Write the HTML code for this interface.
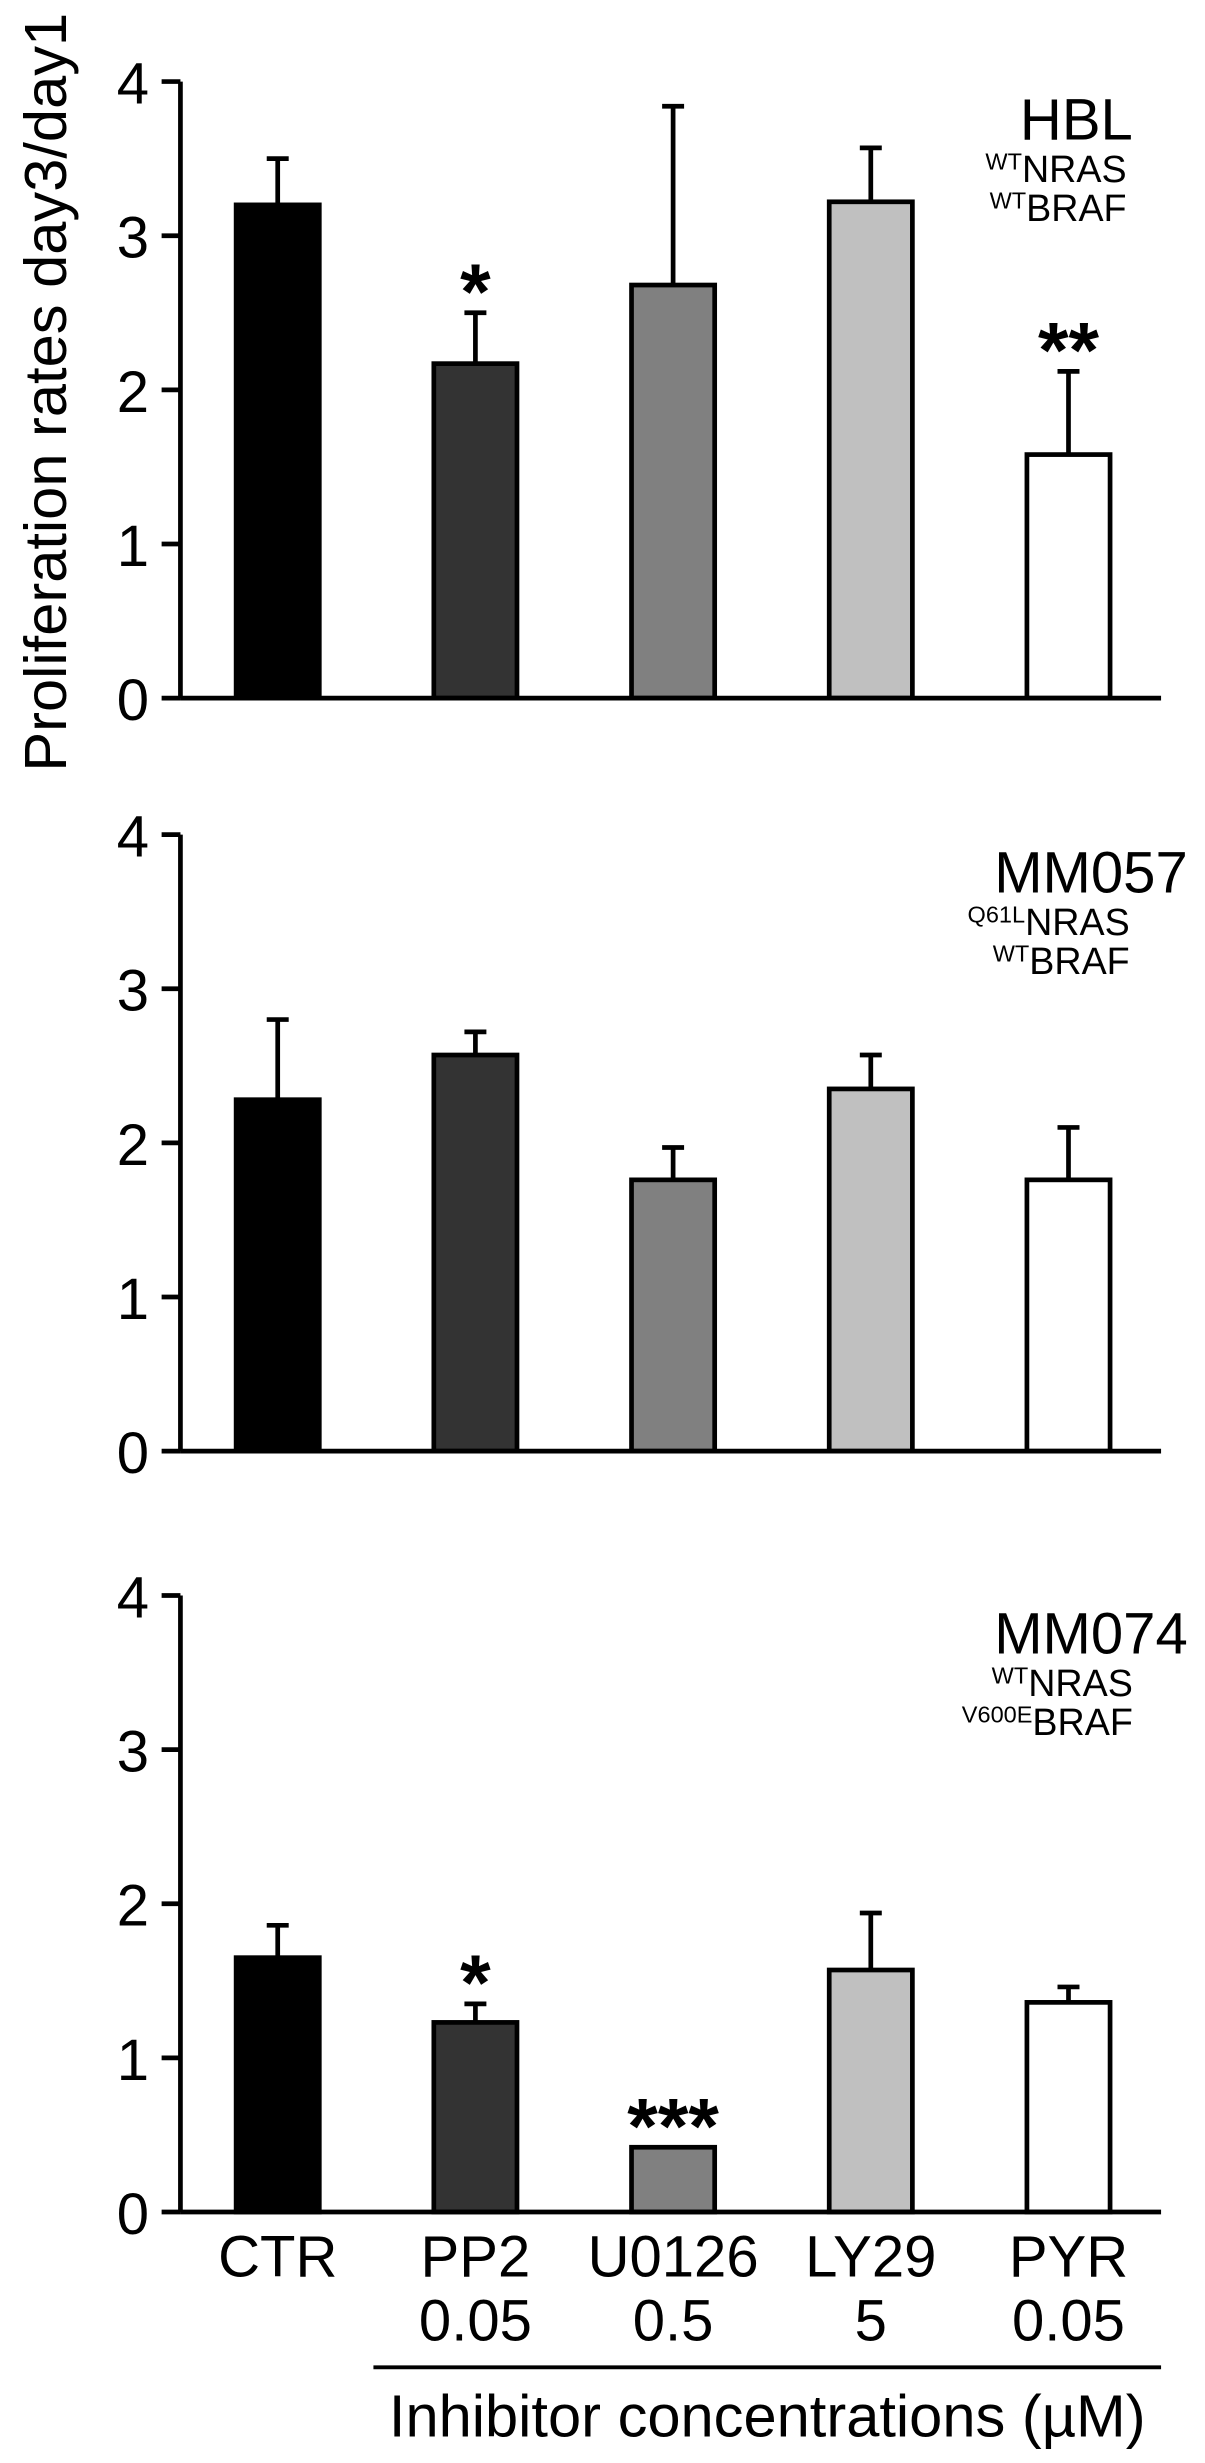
<!DOCTYPE html>
<html><head><meta charset="utf-8"><style>
html,body{margin:0;padding:0;background:#fff}
svg{display:block}
text{font-family:"Liberation Sans",sans-serif;fill:#000}
</style></head><body>
<svg id="chart" width="1205" height="2463" viewBox="0 0 768 1570" preserveAspectRatio="none" xmlns="http://www.w3.org/2000/svg">
<g id="root"></g>
</svg>
<script>
const categories = ["CTR","PP2","U0126","LY29","PYR"];
const concentrations = ["","0.05","0.5","5","0.05"];
const fills = ["#000","#333","#808080","#c0c0c0","#fff"];
const hblValues = [3.2,2.17,2.68,3.22,1.58];
const hblErrors = [0.3,0.33,1.16,0.35,0.54];
const mm057Values = [2.28,2.57,1.76,2.35,1.76];
const mm057Errors = [0.52,0.15,0.21,0.22,0.34];
const mm074Values = [1.65,1.23,0.42,1.57,1.36];
const mm074Errors = [0.21,0.12,0,0.37,0.1];
const hblStars = ["","*","","","**"];
const mm057Stars = ["","","","",""];
const mm074Stars = ["","*","***","",""];
const yTicks = [0,1,2,3,4];

const NS="http://www.w3.org/2000/svg";
const root=document.getElementById('root');
function mk(tag,attrs,parent){const e=document.createElementNS(NS,tag);for(const k in attrs)e.setAttribute(k,attrs[k]);(parent||root).appendChild(e);return e;}
const axisX=115, axisRight=740, unit=98.25, barW=53;
function xCenter(i){return 177+i*126;}

const panels=[
 {name:"hbl",y0:445,vals:hblValues,errs:hblErrors,stars:hblStars,title:"HBL",tx:722,nras:"WT",braf:"WT",sx:718},
 {name:"mm057",y0:925,vals:mm057Values,errs:mm057Errors,stars:mm057Stars,title:"MM057",tx:757,nras:"Q61L",braf:"WT",sx:720},
 {name:"mm074",y0:1410,vals:mm074Values,errs:mm074Errors,stars:mm074Stars,title:"MM074",tx:757,nras:"WT",braf:"V600E",sx:722}
];
panels.forEach(p=>{
 const g=mk('g',{});
 
 
 const yS=v=>p.y0-v*unit;
 const ya=mk('line',{x1:axisX,y1:yS(4),x2:axisX,y2:p.y0,stroke:'#000','stroke-width':3},g);
 
 
 yTicks.forEach(t=>{
  mk('line',{x1:axisX-12,y1:yS(t),x2:axisX,y2:yS(t),stroke:'#000','stroke-width':3},g);
  const tl=mk('text',{x:95,y:yS(t)+14,'text-anchor':'end','font-size':37},g);
  tl.textContent=t;
  
  
 });
 p.vals.forEach((v,i)=>{
  const cx=xCenter(i);
  if(p.errs[i]>0){
   mk('line',{x1:cx,y1:yS(v),x2:cx,y2:yS(v+p.errs[i]),stroke:'#000','stroke-width':3},g);
   mk('line',{x1:cx-7,y1:yS(v+p.errs[i]),x2:cx+7,y2:yS(v+p.errs[i]),stroke:'#000','stroke-width':3},g);
  }
  const b=mk('rect',{x:cx-barW/2,y:yS(v),width:barW,height:v*unit,fill:fills[i],stroke:'#000','stroke-width':3},g);
  
  
  if(p.stars[i]){
   const s=mk('text',{x:cx,y:yS(v+p.errs[i])+4,'text-anchor':'middle','font-size':50,'font-weight':'bold'},g);
   s.textContent=p.stars[i];
   
   
  }
 });
 const xa=mk('line',{x1:axisX,y1:p.y0,x2:axisRight,y2:p.y0,stroke:'#000','stroke-width':3},g);
 
 
 const ty=p.y0-393;
 const t=mk('text',{x:p.tx,y:ty+37,'text-anchor':'end','font-size':37},g);
 t.textContent=p.title;
 
 
 [[p.nras,"NRAS",ty+64],[p.braf,"BRAF",ty+89]].forEach(r=>{
  const st=mk('text',{x:p.sx,y:r[2],'text-anchor':'end','font-size':24},g);
  const sup=mk('tspan',{'font-size':15,dy:-8},st); sup.textContent=r[0];
  const m=mk('tspan',{dy:8},st); m.textContent=r[1];
  
  
 });
});
categories.forEach((c,i)=>{
 const t=mk('text',{x:xCenter(i),y:1451,'text-anchor':'middle','font-size':37});
 t.textContent=c;
 
 
 if(concentrations[i]){
  const t2=mk('text',{x:xCenter(i),y:1492,'text-anchor':'middle','font-size':37});
  t2.textContent=concentrations[i];
  
  
 }
});
</script>
<svg style="position:absolute;left:0;top:0" width="1205" height="2463" viewBox="0 0 768 1570" preserveAspectRatio="none">
<line x1="238" y1="1509" x2="740" y2="1509" stroke="#000" stroke-width="2.5"/>
<text x="489" y="1553" text-anchor="middle" font-size="38" style="font-family:'Liberation Sans',sans-serif">Inhibitor concentrations (µM)</text>
<text transform="translate(42,250) rotate(-90)" text-anchor="middle" font-size="38" style="font-family:'Liberation Sans',sans-serif">Proliferation rates day3/day1</text>
</svg>
</body></html>
